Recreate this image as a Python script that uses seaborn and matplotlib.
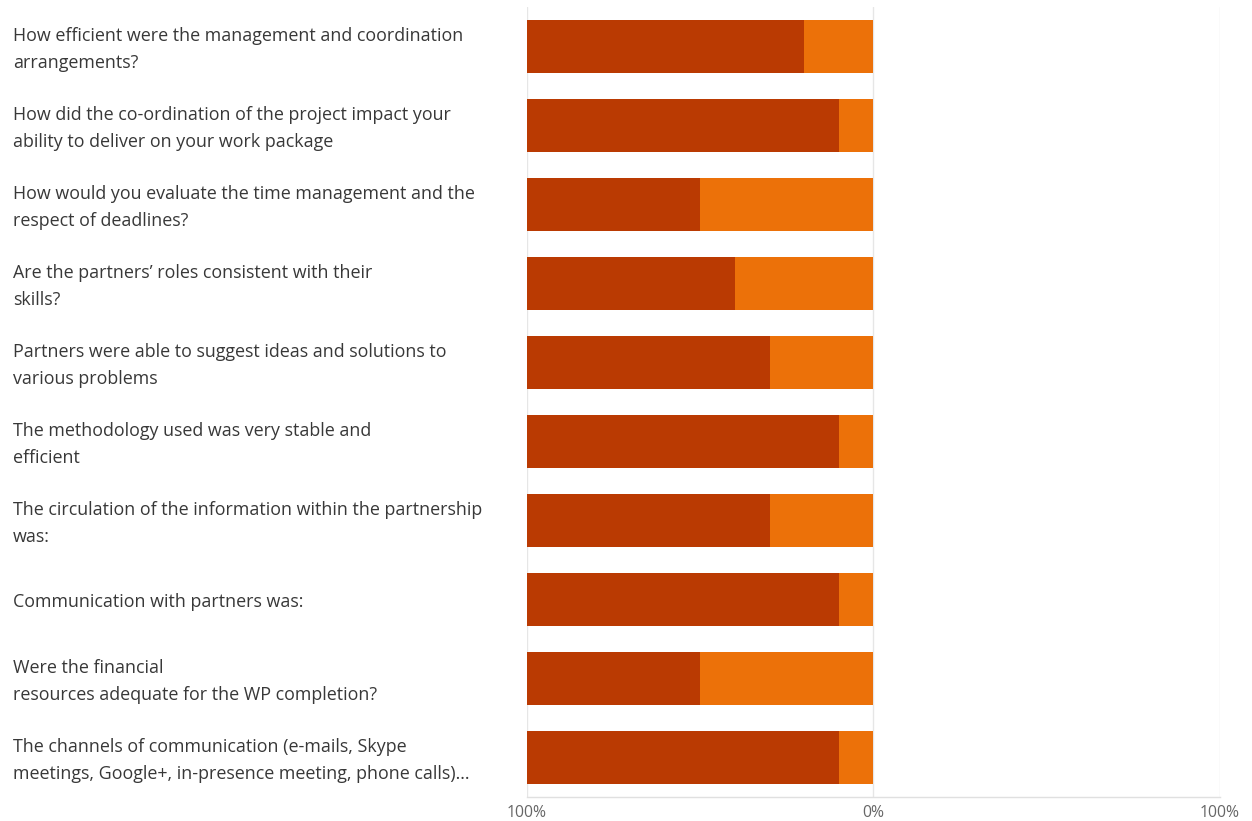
import matplotlib
matplotlib.use("Agg")
import matplotlib.pyplot as plt
import matplotlib.transforms as mtransforms
import pandas as pd
import seaborn as sns

questions = [
    "How efficient were the management and coordination\narrangements?",
    "How did the co-ordination of the project impact your\nability to deliver on your work package",
    "How would you evaluate the time management and the\nrespect of deadlines?",
    "Are the partners\u2019 roles consistent with their\nskills?",
    "Partners were able to suggest ideas and solutions to\nvarious problems",
    "The methodology used was very stable and\nefficient",
    "The circulation of the information within the partnership\nwas:",
    "Communication with partners was:",
    "Were the financial\nresources adequate for the WP completion?",
    "The channels of communication (e-mails, Skype\nmeetings, Google+, in-presence meeting, phone calls)...",
]
# share of answers per question (percent)
very_good = [80, 90, 50, 60, 70, 90, 70, 90, 50, 90]
good = [20, 10, 50, 40, 30, 10, 30, 10, 50, 10]
tick_values = [-100, 0, 100]
tick_labels = ["100%", "0%", "100%"]

dark_col = "#BA3A02"
light_col = "#EC7109"

df = pd.DataFrame({"q": questions, "very_good": very_good, "good": good})
df["left_end"] = -(df["very_good"] + df["good"])
df["near_end"] = -df["good"]

sns.set_theme(style="white")
plt.rcParams["font.family"] = ["Open Sans", "DejaVu Sans"]

fig = plt.figure(figsize=(12.52, 8.21), dpi=100)
ax = fig.add_axes([527 / 1252, 1 - 797 / 821, (1220 - 527) / 1252, (797 - 7) / 821])

sns.barplot(data=df, y="q", x="left_end", color=dark_col, orient="h",
            width=0.66, ax=ax, saturation=1, linewidth=0)
sns.barplot(data=df, y="q", x="near_end", color=light_col, orient="h",
            width=0.66, ax=ax, saturation=1, linewidth=0)

ax.set_xlim(-100, 100)
ax.set_ylim(len(questions) - 0.5, -0.5)
ax.set_xticks(tick_values)
ax.set_xticklabels(tick_labels, fontsize=11.3, color="#666666")
ax.tick_params(axis="x", length=0, pad=6)
ax.set_yticks([])
ax.set_xlabel("")
ax.set_ylabel("")

for s in ["top", "right", "left"]:
    ax.spines[s].set_visible(False)
ax.spines["bottom"].set_color("#E0E0E0")
ax.spines["bottom"].set_linewidth(1)
ax.set_axisbelow(True)
ax.xaxis.grid(True, color="#E6E6E6", linewidth=1)

trans = mtransforms.blended_transform_factory(fig.transFigure, ax.transData)
for i, q in enumerate(questions):
    fig.text(13 / 1252, i + 0.035, q, transform=trans, ha="left", va="center",
             fontsize=12.85, color="#383838", linespacing=1.66)

fig.savefig("out.png", dpi=100)
